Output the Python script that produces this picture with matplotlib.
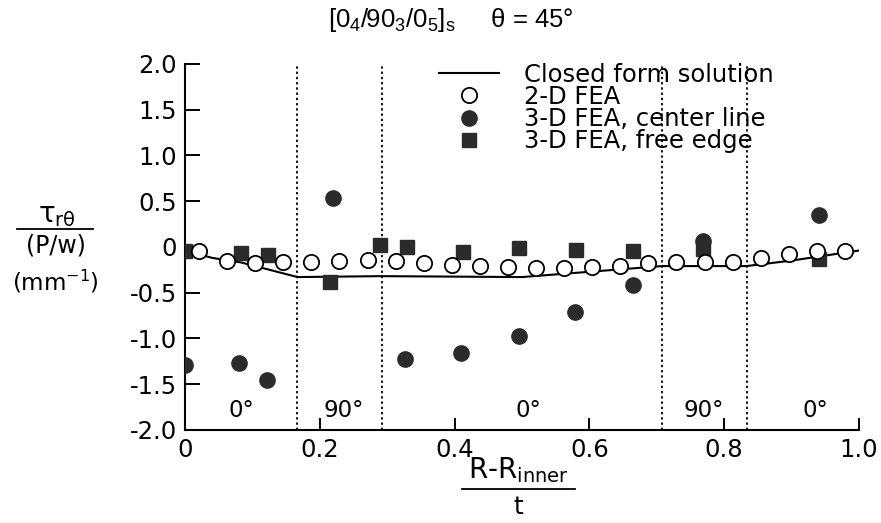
import matplotlib
matplotlib.use("Agg")
import matplotlib.pyplot as plt
from matplotlib.lines import Line2D

plt.rcParams['font.family'] = ['DejaVu Sans']
plt.rcParams['mathtext.default'] = 'regular'

# ply boundaries of [0_4/90_3/0_5]s, 24 plies
boundaries = [4/24, 7/24, 17/24, 20/24]
layer_x = [0.083, 0.235, 0.51, 0.77, 0.935]
layer_names = ['0°', '90°', '0°', '90°', '0°']

# closed form solution
cf_x = [0, 0.04, 0.083, 0.125, 0.167, 0.292, 0.5, 0.708, 0.833, 0.9, 1.0]
cf_y = [-0.04, -0.12, -0.17, -0.25, -0.33, -0.32, -0.33, -0.21, -0.21, -0.15, -0.04]

# 2-D FEA, ply centres
fea2_x = [(i + 0.5) / 24 for i in range(24)]
fea2_y = [-0.05, -0.15, -0.18, -0.17, -0.16, -0.15, -0.14, -0.15, -0.18, -0.20, -0.21, -0.22,
          -0.23, -0.23, -0.22, -0.21, -0.18, -0.16, -0.16, -0.16, -0.12, -0.08, -0.04, -0.04]

# 3-D FEA, center line
cl_x = [0, 0.08, 0.122, 0.22, 0.327, 0.41, 0.495, 0.579, 0.664, 0.768, 0.94]
cl_y = [-1.29, -1.27, -1.46, 0.53, -1.22, -1.16, -0.97, -0.71, -0.42, 0.06, 0.35]

# 3-D FEA, free edge
fe_x = [0, 0.083, 0.123, 0.215, 0.289, 0.33, 0.413, 0.496, 0.58, 0.664, 0.768, 0.94]
fe_y = [-0.04, -0.07, -0.09, -0.38, 0.02, 0.0, -0.06, -0.01, -0.03, -0.04, -0.02, -0.13]

dark = '#2b2b2b'

fig = plt.figure(figsize=(8.81, 5.23), dpi=100)
ax = fig.add_axes([0.210, 0.178, 0.765, 0.700])

for b in boundaries:
    ax.axvline(b, color='black', lw=1.3, ls=(0, (1.3, 1.6)), zorder=1)

ax.plot(cf_x, cf_y, color='black', lw=1.5, zorder=2, label='Closed form solution')
ax.plot(fe_x, fe_y, 's', ms=10, color=dark, mec=dark, zorder=3, label='3-D FEA, free edge')
ax.plot(cl_x, cl_y, 'o', ms=11, color=dark, mec=dark, zorder=3, label='3-D FEA, center line')
ax.plot(fea2_x, fea2_y, 'o', ms=11, mfc='white', mec='black', mew=1.3, zorder=4, label='2-D FEA')

for x, name in zip(layer_x, layer_names):
    ax.text(x, -1.79, name, ha='center', va='center', fontsize=16.5)

ax.set_xlim(0, 1.0)
ax.set_ylim(-2.0, 2.0)
ax.set_xticks([0, 0.2, 0.4, 0.6, 0.8, 1.0])
ax.set_xticklabels(['0', '0.2', '0.4', '0.6', '0.8', '1.0'])
ax.set_yticks([2.0, 1.5, 1.0, 0.5, 0, -0.5, -1.0, -1.5, -2.0])
ax.set_yticklabels(['2.0', '1.5', '1.0', '0.5', '0', '-0.5', '-1.0', '-1.5', '-2.0'])
ax.tick_params(axis='both', direction='in', width=1.4, labelsize=17.5)
ax.tick_params(axis='y', length=10.5, pad=6)
ax.tick_params(axis='x', length=8.5, pad=6)
for s in ['top', 'right']:
    ax.spines[s].set_visible(False)
for s in ['left', 'bottom']:
    ax.spines[s].set_linewidth(1.5)

handles, labels = ax.get_legend_handles_labels()
order = [0, 3, 2, 1]
ax.legend([handles[i] for i in order], [labels[i] for i in order],
          loc='upper left', bbox_to_anchor=(0.362, 1.03), frameon=False,
          fontsize=17.5, handlelength=2.5, handletextpad=1.0, labelspacing=-0.07,
          borderaxespad=0)

# title
fig.text(0.512, 0.962, r'$[0_4/90_3/0_5]_s$     $\theta$ = 45°', ha='center', va='center',
         fontsize=18.5, family='Liberation Sans')

# y label as fraction
fig.text(57/881, 1 - 215/523, r'$\tau_{r\theta}$', ha='center', va='center', fontsize=20)
fig.add_artist(Line2D([17/881, 93/881], [1 - 229/523, 1 - 229/523], color='black', lw=1.3))
fig.text(56/881, 1 - 246/523, '(P/w)', ha='center', va='center', fontsize=17)
fig.text(55/881, 1 - 282/523, r'(mm$^{-1}$)', ha='center', va='center', fontsize=16.5)

# x label as fraction
fig.text(518/881, 1 - 470/523, r'R-R$_{inner}$', ha='center', va='center', fontsize=20)
fig.add_artist(Line2D([462/881, 575/881], [1 - 489/523, 1 - 489/523], color='black', lw=1.3))
fig.text(518/881, 1 - 507/523, 't', ha='center', va='center', fontsize=18)

fig.savefig('out.png', dpi=100)
